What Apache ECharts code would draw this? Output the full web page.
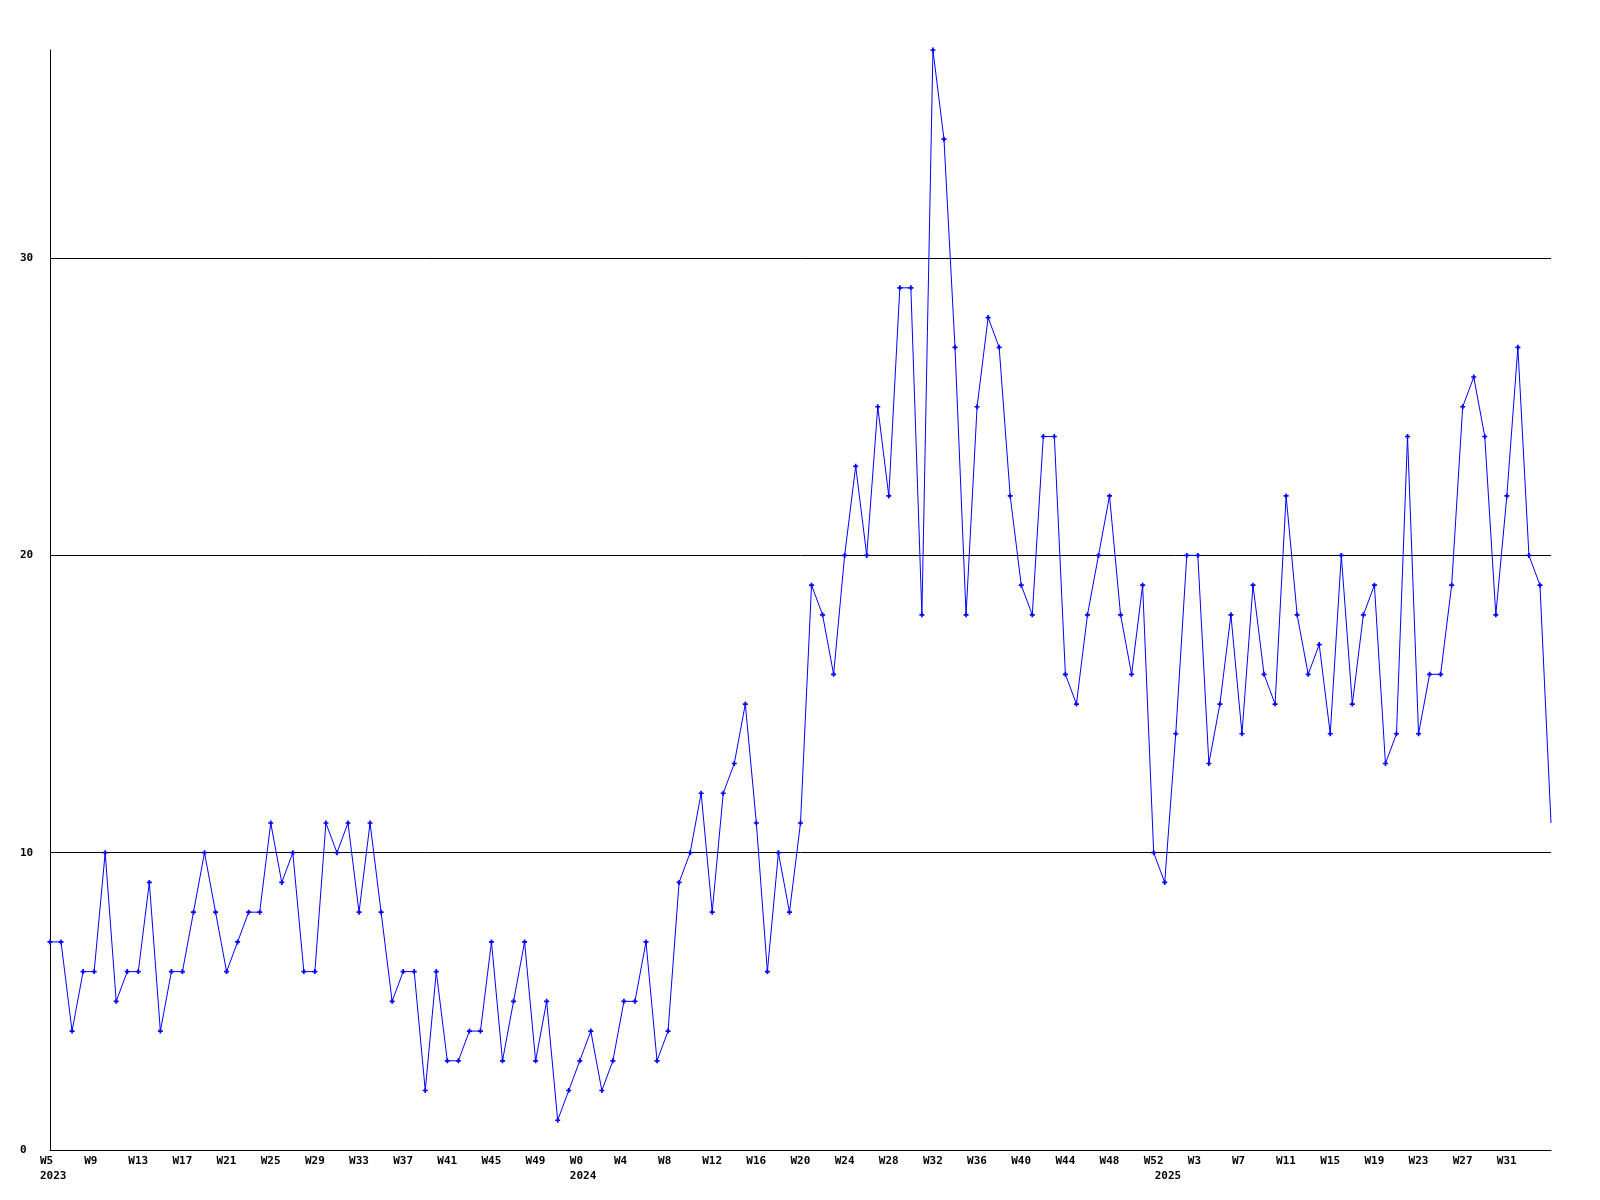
<!DOCTYPE html>
<html>
<head>
<meta charset="utf-8">
<script src="https://cdn.jsdelivr.net/npm/echarts@6/dist/echarts.min.js"></script>
<style>
html,body{margin:0;padding:0;background:#fff;}
#chart{width:1600px;height:1200px;}
</style>
</head>
<body>
<div id="chart"></div>
<script>
// Week labels per year
const weeks2023 = ['W5','W6','W7','W8','W9','W10','W11','W12','W13','W14','W15','W16','W17','W18','W19','W20','W21','W22','W23','W24','W25','W26','W27','W28','W29','W30','W31','W32','W33','W34','W35','W36','W37','W38','W39','W40','W41','W42','W43','W44','W45','W46','W47','W48','W49','W50','W51','W52'];
const weeks2024 = ['W0','W1','W2','W3','W4','W5','W6','W7','W8','W9','W10','W11','W12','W13','W14','W15','W16','W17','W18','W19','W20','W21','W22','W23','W24','W25','W26','W27','W28','W29','W30','W31','W32','W33','W34','W35','W36','W37','W38','W39','W40','W41','W42','W43','W44','W45','W46','W47','W48','W49','W50','W51','W52'];
const weeks2025 = ['W0','W1','W2','W3','W4','W5','W6','W7','W8','W9','W10','W11','W12','W13','W14','W15','W16','W17','W18','W19','W20','W21','W22','W23','W24','W25','W26','W27','W28','W29','W30','W31','W32','W33','W34','W35'];

// Weekly values
const values2023 = [7,7,4,6,6,10,5,6,6,9,4,6,6,8,10,8,6,7,8,8,11,9,10,6,6,11,10,11,8,11,8,5,6,6,2,6,3,3,4,4,7,3,5,7,3,5,1,2];
const values2024 = [3,4,2,3,5,5,7,3,4,9,10,12,8,12,13,15,11,6,10,8,11,19,18,16,20,23,20,25,22,29,29,18,37,34,27,18,25,28,27,22,19,18,24,24,16,15,18,20,22,18,16,19,10];
const values2025 = [9,14,20,20,13,15,18,14,19,16,15,22,18,16,17,14,20,15,18,19,13,14,24,14,16,16,19,25,26,24,18,22,27,20,19,11];

const years = ['2023','2024','2025'];
const yTicks = [0,10,20,30];

const weekGroups = [weeks2023, weeks2024, weeks2025];
const categories = [];
const yearOf = [];
weekGroups.forEach((g, gi) => g.forEach(w => { categories.push(w); yearOf.push(years[gi]); }));
const values = values2023.concat(values2024, values2025);
const lastIdx = values.length - 1;
const seriesData = values.map((v, i) => i === lastIdx ? {value: v, symbol: 'none'} : v);

const FONT = '"DejaVu Sans Mono", monospace';
const plusPath = 'path://M2,0L4,0L4,2L6,2L6,4L4,4L4,6L2,6L2,4L0,4L0,2L2,2Z';

const chart = echarts.init(document.getElementById('chart'), null, {renderer: 'canvas'});
chart.setOption({
  animation: false,
  backgroundColor: '#ffffff',
  grid: {left: 50, right: 49, top: 50, bottom: 50, containLabel: false, outerBoundsMode: 'none'},
  xAxis: [{
    type: 'category',
    data: categories,
    boundaryGap: false,
    axisLine: {show: true, lineStyle: {color: '#000', width: 1}},
    axisTick: {show: false},
    splitLine: {show: false},
    axisLabel: {
      interval: 3,
      align: 'left',
      padding: [0, 0, 0, -10],
      margin: 6,
      color: '#000',
      fontFamily: FONT,
      fontWeight: 'bold',
      fontSize: 11,
      hideOverlap: false,
      formatter: (v, i) => i === lastIdx ? '' : v
    }
  }, {
    type: 'category',
    data: categories,
    boundaryGap: false,
    position: 'bottom',
    axisLine: {show: false},
    axisTick: {show: false},
    splitLine: {show: false},
    axisLabel: {
      interval: 0,
      align: 'left',
      padding: [0, 0, 0, -10],
      margin: 21,
      color: '#000',
      fontFamily: FONT,
      fontWeight: 'bold',
      fontSize: 11,
      hideOverlap: false,
      formatter: (v, i) => (i === 0 || yearOf[i] !== yearOf[i - 1]) ? yearOf[i] : ''
    }
  }],
  yAxis: {
    type: 'value',
    min: 0,
    max: 37,
    interval: 10,
    axisLine: {show: true, lineStyle: {color: '#000', width: 1}},
    axisTick: {show: false},
    splitLine: {show: true, showMaxLine: false, lineStyle: {color: '#000', width: 1}},
    axisLabel: {
      align: 'left',
      margin: 30,
      showMaxLabel: false,
      color: '#000',
      fontFamily: FONT,
      fontWeight: 'bold',
      fontSize: 11,
      formatter: v => yTicks.indexOf(v) >= 0 ? String(v) : ''
    }
  },
  series: [{
    type: 'line',
    xAxisIndex: 0,
    data: seriesData,
    symbol: plusPath,
    symbolSize: 5,
    showSymbol: true,
    showAllSymbol: true,
    itemStyle: {color: '#0000ff'},
    lineStyle: {color: '#0000ff', width: 1},
    emphasis: {disabled: true}
  }]
});
</script>
</body>
</html>
